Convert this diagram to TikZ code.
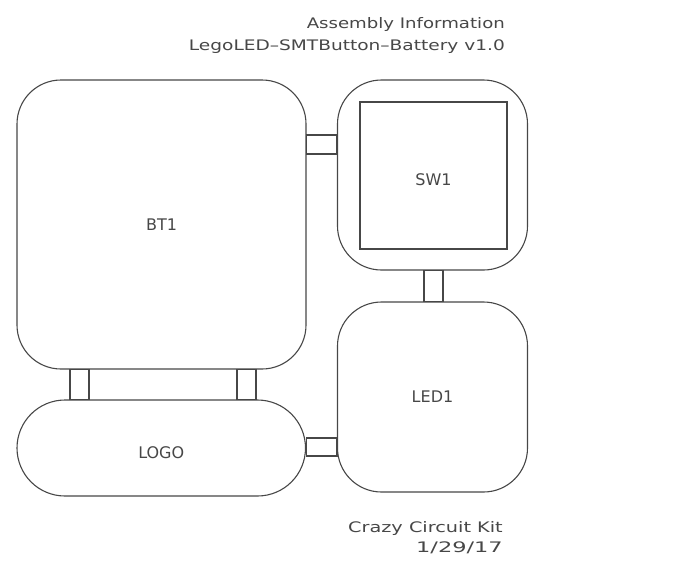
\documentclass[tikz,border=0pt]{standalone}
\usepackage{fontspec}
\setmainfont{DejaVu Sans}
\definecolor{ink}{HTML}{474747}
\begin{document}
\begin{tikzpicture}[x=1pt,y=-1pt,
  part/.style={draw=ink,line width=1.1pt,rounded corners=44pt,inner sep=0pt,text=ink,font=\fontsize{16}{18}\selectfont},
  pad/.style={draw=ink,line width=1.1pt},
  txt/.style={text=ink,font=\fontsize{14.5}{16}\selectfont,inner sep=0pt}]
\useasboundingbox (0,0) rectangle (700,570);
\node[part,minimum width=289pt,minimum height=289pt] (BT1) at (161.5,224.5) {BT1};
\node[part,minimum width=190pt,minimum height=190pt] (SW1) at (432.5,175) {};
\node[draw=ink,line width=1.1pt,minimum width=147pt,minimum height=147pt,inner sep=0pt,text=ink,font=\fontsize{16}{18}\selectfont,text height=20pt,text depth=0pt] (SW1in) at (433.5,175.5) {SW1};
\node[part,minimum width=190pt,minimum height=190pt] (LED1) at (432.5,397) {LED1};
\node[part,rounded corners=48pt,minimum width=288.5pt,minimum height=96pt,text height=21pt,text depth=0pt] (LOGO) at (161.25,448) {LOGO};
% connectors
\draw[pad] (BT1.east |- 0,135) rectangle (SW1.west |- 0,154);
\draw[pad] (SW1.south -| 424,0) rectangle (LED1.north -| 443,0);
\draw[pad] (BT1.south -| 70,0) rectangle (LOGO.north -| 89,0);
\draw[pad] (BT1.south -| 237,0) rectangle (LOGO.north -| 256,0);
\draw[pad] (LOGO.east |- 0,438) rectangle (LED1.west |- 0,456);
% texts
\node[txt,anchor=base east] (t1) at (505,28) {\scalebox{1.25}[1]{Assembly Information}};
\node[txt,anchor=base east] (t2) at (505,50) {\scalebox{1.28}[1]{LegoLED--SMTButton--Battery v1.0}};
\node[txt,anchor=base east] (t3) at (503,532) {\scalebox{1.33}[1]{Crazy Circuit Kit}};
\node[txt,anchor=base east] (t4) at (503,552) {\scalebox{1.55}[1]{1/29/17}};
\end{tikzpicture}
\end{document}
